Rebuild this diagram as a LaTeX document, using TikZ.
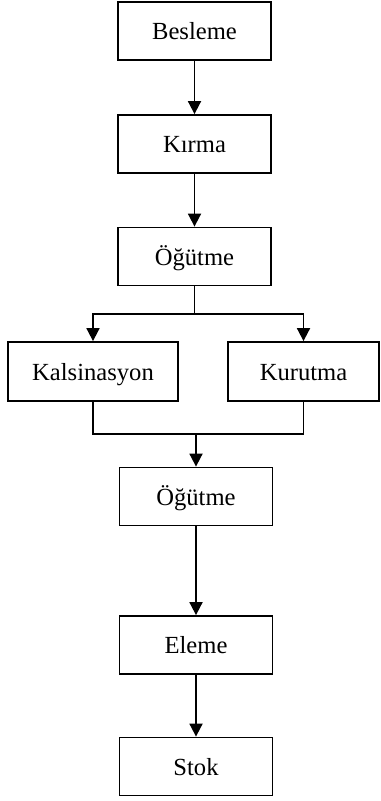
\documentclass[tikz,border=0pt]{standalone}
\usepackage{fontspec}
\setmainfont{Liberation Serif}
\usepackage{tikz}
\usetikzlibrary{arrows.meta}
\tikzstyle{box}=[draw=black, line width=.9pt, minimum width=76.5pt, minimum height=29pt, inner sep=0pt, text height=8.6pt, text depth=0pt, font=\fontsize{12.3}{14}\selectfont]
\tikzstyle{arr}=[line width=.9pt, -{Triangle[length=6.5pt, width=6.5pt]}]
\tikzstyle{line}=[line width=.9pt]

\begin{document}
\begin{tikzpicture}[x=.5pt, y=-.5pt]
    \useasboundingbox (0,0) rectangle (380,801);

    \node[box] (besleme) at (194.5,31) {Besleme};
    \node[box] (kirma) at (194.5,144) {Kırma};
    \node[box] (ogutme1) at (194.5,256.5) {Öğütme};

    \node[box, minimum width=85pt, minimum height=29.5pt] (kalsinasyon) at (93,371.5) {Kalsinasyon};
    \node[box, minimum width=75.5pt, minimum height=29.5pt] (kurutma) at (303.5,371.5) {Kurutma};

    \node[box] (ogutme2) at (196,496.5) {Öğütme};
    \node[box] (eleme) at (196,645) {Eleme};
    \node[box] (stok) at (196,766.5) {Stok};

    \coordinate (split) at (194.5,314);
    \coordinate (merge) at (196,434);

    \draw[line] (ogutme1) -- (split);
    \draw[arr] (split) -| (kalsinasyon);
    \draw[arr] (split) -| (kurutma);
    \draw[line] (kalsinasyon) |- (merge);
    \draw[line] (kurutma) |- (merge);

    \foreach \from/\to in {besleme/kirma, kirma/ogutme1, merge/ogutme2, ogutme2/eleme, eleme/stok}
      \draw[arr] (\from) -- (\to);
  \end{tikzpicture}
\end{document}
